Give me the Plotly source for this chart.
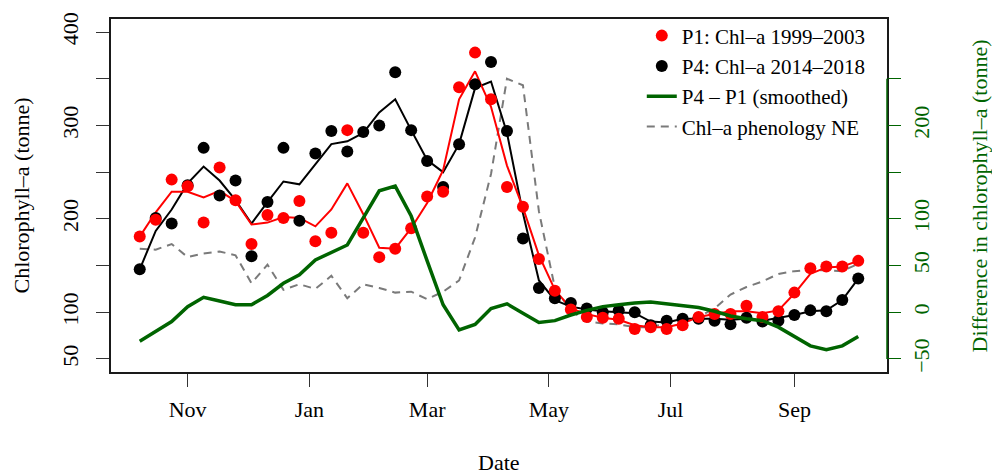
import pandas as pd
import plotly.graph_objects as go

# 8-day composite dates (Oct -> Oct)
dates = [
    "2000-10-08", "2000-10-16", "2000-10-24", "2000-11-01", "2000-11-09", "2000-11-17",
    "2000-11-25", "2000-12-03", "2000-12-11", "2000-12-19", "2000-12-27", "2001-01-04",
    "2001-01-12", "2001-01-20", "2001-01-28", "2001-02-05", "2001-02-13", "2001-02-21",
    "2001-03-01", "2001-03-09", "2001-03-17", "2001-03-25", "2001-04-02", "2001-04-10",
    "2001-04-18", "2001-04-26", "2001-05-04", "2001-05-12", "2001-05-20", "2001-05-28",
    "2001-06-05", "2001-06-13", "2001-06-21", "2001-06-29", "2001-07-07", "2001-07-15",
    "2001-07-23", "2001-07-31", "2001-08-08", "2001-08-16", "2001-08-24", "2001-09-01",
    "2001-09-09", "2001-09-17", "2001-09-25", "2001-10-03",
]

# P1: Chl-a 1999-2003 (points)
p1_points = [181, 199, 242, 235, 196, 255, 220, 173, 204, 201, 219, 176,
             185, 295, 185, 159, 168, 190, 224, 229, 341, 378, 328, 234,
             213, 157, 123, 103, 95, 94, 93, 82, 84, 82, 86, 95,
             98, 98, 107, 95, 101, 121, 147, 149, 149, 155]
# P1 smoothed line
p1_line = [181, 207, 229, 229, 223, 230, 219, 194, 196, 202, 201, 192,
           210, 238, 205, 169, 168, 190, 217, 252, 328, 358, 320, 257,
           212, 161, 124, 104, 98, 94, 92, 86, 84, 84, 88, 95,
           98, 101, 101, 99, 102, 120, 141, 148, 149, 155]
# P4: Chl-a 2014-2018 (points)
p4_points = [146, 201, 195, 236, 276, 225, 241, 160, 218, 276, 198, 270,
             294, 272, 293, 300, 357, 295, 262, 234, 280, 344, 368, 294,
             179, 126, 115, 110, 104, 100, 102, 100, 86, 91, 93, 93,
             91, 87, 94, 90, 91, 97, 102, 101, 113, 136]
# P4 smoothed line
p4_line = [146, 187, 210, 238, 256, 241, 220, 195, 218, 240, 237, 259,
           280, 283, 292, 314, 328, 295, 263, 250, 280, 340, 347, 292,
           206, 134, 113, 106, 103, 101, 100, 99, 90, 89, 93, 93,
           93, 92, 93, 91, 94, 97, 101, 102, 113, 136]
# P4 - P1 (smoothed), right axis
diff_smoothed = [-31, -20, -10, 6, 16, 12, 8, 8, 18, 31, 40, 56,
                 64, 72, 101, 130, 135, 103, 55, 8, -19, -13, 4, 9,
                 -1, -11, -9, -3, 2, 6, 8, 10, 11, 9, 7, 5,
                 1, -4, -7, -9, -16, -26, -36, -40, -36, -26]
# Chl-a phenology NE (dashed)
phenology = [168, 167, 173, 159, 163, 165, 161, 131, 151, 124, 130, 125,
             139, 115, 130, 126, 121, 122, 114, 122, 134, 180, 248, 350,
             343, 208, 126, 102, 90, 88, 87, 84, 84, 88, 92, 95,
             104, 119, 127, 133, 141, 144, 145, 145, 144, 152]

month_ticks = ["2000-11-01", "2001-01-01", "2001-03-01", "2001-05-01", "2001-07-01", "2001-09-01"]
month_labels = ["Nov", "Jan", "Mar", "May", "Jul", "Sep"]

left_ticks = [50, 100, 150, 200, 250, 300, 350, 400]
left_labels = ["50", "100", "", "200", "", "300", "", "400"]
right_ticks = [-50, 0, 50, 100, 150, 200, 250]
right_labels = ["\u221250", "0", "50", "100", "", "200", ""]

FONT = "Liberation Serif"
GREEN = "#006400"

d = pd.to_datetime(dates)
span = d[-1] - d[0]
xr = [d[0] - 0.04 * span, d[-1] + 0.04 * span]

fig = go.Figure()
fig.add_trace(go.Scatter(x=dates, y=phenology, mode="lines", name="Chl\u2013a phenology NE",
                         line=dict(color="#7a7a7a", width=2, dash="8px,6px"), legendrank=4))
fig.add_trace(go.Scatter(x=dates, y=p4_line, mode="lines", showlegend=False,
                         line=dict(color="black", width=2)))
fig.add_trace(go.Scatter(x=dates, y=p1_line, mode="lines", showlegend=False,
                         line=dict(color="red", width=2)))
fig.add_trace(go.Scatter(x=dates, y=diff_smoothed, mode="lines", name="P4 \u2013 P1 (smoothed)",
                         yaxis="y2", line=dict(color=GREEN, width=3.5), legendrank=3))
fig.add_trace(go.Scatter(x=dates, y=p4_points, mode="markers", name="P4: Chl\u2013a 2014\u20132018",
                         marker=dict(color="black", size=12), legendrank=2))
fig.add_trace(go.Scatter(x=dates, y=p1_points, mode="markers", name="P1: Chl\u2013a 1999\u20132003",
                         marker=dict(color="red", size=12), legendrank=1))

fig.update_layout(
    width=992, height=476,
    margin=dict(l=111, r=105, t=16, b=104),
    paper_bgcolor="white", plot_bgcolor="white",
    font=dict(family=FONT, size=22, color="black"),
    showlegend=True,
    legend=dict(x=0.684, y=1.01, xanchor="left", yanchor="top",
                bgcolor="rgba(0,0,0,0)", borderwidth=0,
                font=dict(family=FONT, size=21, color="black")),
    xaxis=dict(type="date", range=xr, tickvals=month_ticks, ticktext=month_labels,
               ticks="outside", ticklen=13, tickwidth=1, tickcolor="#333",
               showline=True, linecolor="#1a1a1a", linewidth=2, mirror=True,
               showgrid=False, zeroline=False, ticklabelstandoff=4,
               tickfont=dict(family=FONT, size=22, color="black")),
    yaxis=dict(range=[36, 414], tickvals=left_ticks, ticktext=left_labels, tickangle=-90,
               ticks="outside", ticklen=13, tickwidth=1, tickcolor="#333",
               showline=True, linecolor="#1a1a1a", linewidth=2, mirror=True,
               showgrid=False, zeroline=False, ticklabelstandoff=9,
               tickfont=dict(family=FONT, size=22, color="black")),
    yaxis2=dict(range=[-64, 314], overlaying="y", side="right", anchor="x",
                tickvals=right_ticks, ticktext=right_labels, tickangle=-90,
                ticks="outside", ticklen=13, tickwidth=1, tickcolor=GREEN,
                showline=False, showgrid=False, zeroline=False, ticklabelstandoff=2,
                tickfont=dict(family=FONT, size=22, color=GREEN)),
    shapes=[dict(type="line", xref="paper", yref="y2", x0=1, x1=1, y0=-50, y1=250,
                 line=dict(color=GREEN, width=1.5), layer="above")],
    annotations=[
        dict(text="Date", xref="paper", yref="paper", x=0.5, y=-0.256,
             xanchor="center", yanchor="middle", showarrow=False,
             font=dict(family=FONT, size=22, color="black")),
        dict(text="Chlorophyll\u2013a (tonne)", xref="paper", yref="paper", x=-0.1147, y=0.5,
             xanchor="center", yanchor="middle", textangle=-90, showarrow=False,
             font=dict(family=FONT, size=22, color="black")),
        dict(text="Difference in chlorophyll\u2013a (tonne)", xref="paper", yref="paper",
             x=1.1198, y=0.5, xanchor="center", yanchor="middle", textangle=-90, showarrow=False,
             font=dict(family=FONT, size=22, color=GREEN)),
    ],
)

fig.write_html("out.html", config={"displayModeBar": False},
               post_script="document.body.style.margin='0';")
